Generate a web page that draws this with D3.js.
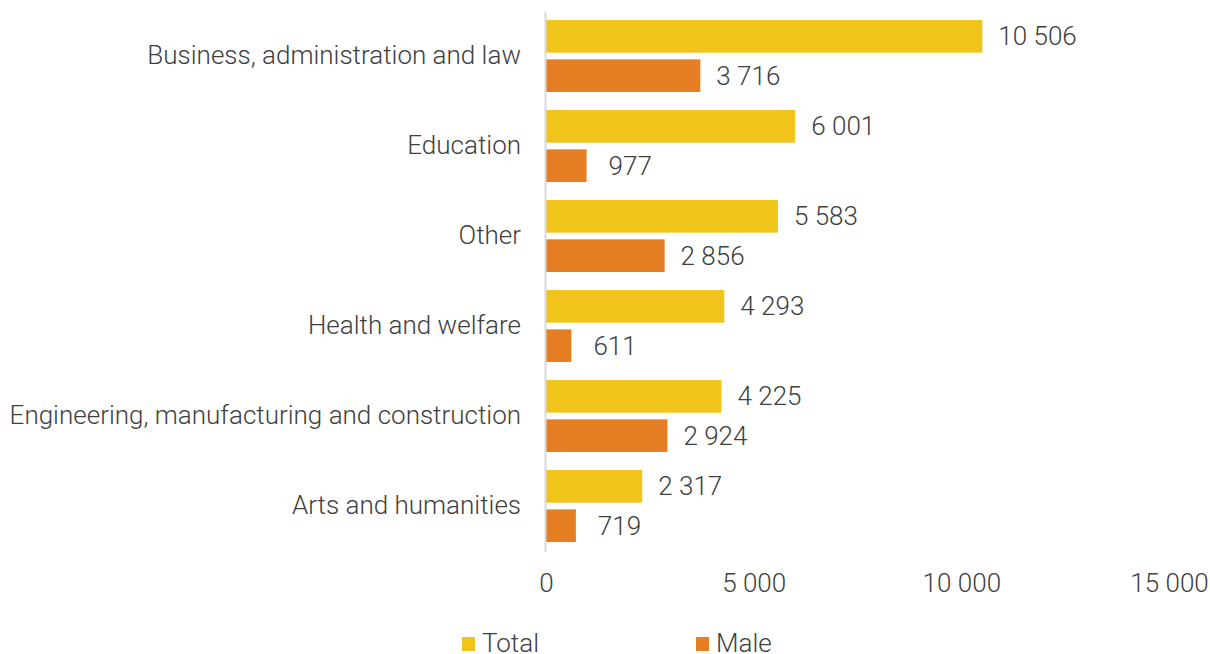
<!DOCTYPE html>
<html>
<head>
<meta charset="utf-8">
<script src="https://cdn.jsdelivr.net/npm/d3@7"></script>
<style>
  html, body { margin: 0; padding: 0; background: #ffffff; }
  svg { display: block; }
  text { font-family: Roboto, "Noto Sans", sans-serif; font-weight: 300; fill: #404040; }
</style>
</head>
<body>
<svg id="chart" width="1210" height="654"></svg>
<script>
// Fields of study, top to bottom
const categories = [
  "Business, administration and law",
  "Education",
  "Other",
  "Health and welfare",
  "Engineering, manufacturing and construction",
  "Arts and humanities"
];
const totalValues = [10506, 6001, 5583, 4293, 4225, 2317];
const maleValues  = [3716, 977, 2856, 611, 2924, 719];
const seriesNames = ["Total", "Male"];
const xTicks = [0, 5000, 10000, 15000];

const colors = { Total: "#F0C41B", Male: "#E67E24" };
const FONT = 26;

const svg = d3.select("#chart");
const plot = { left: 546, right: 1169, top: 11, bottom: 551 };

const locale = d3.formatLocale({ decimal: ".", thousands: "\u00a0", grouping: [3], currency: ["", ""] });
const fmt = locale.format(",d");

const x = d3.scaleLinear().domain([0, 15000]).range([plot.left, plot.right]);
const y = d3.scaleBand().domain(categories).range([plot.top, plot.bottom]).paddingInner(0).paddingOuter(0);
const inner = d3.scaleBand().domain(seriesNames).range([9, y.bandwidth() - 9]).paddingInner(0.17).paddingOuter(0);

const rows = categories.map((c, i) => ({ category: c, Total: totalValues[i], Male: maleValues[i] }));

// Bars and value labels
const groups = svg.append("g").selectAll("g")
  .data(rows).join("g")
  .attr("transform", d => `translate(0,${y(d.category)})`);

seriesNames.forEach(s => {
  groups.append("rect")
    .attr("x", x(0))
    .attr("y", inner(s))
    .attr("width", d => x(d[s]) - x(0))
    .attr("height", inner.bandwidth())
    .attr("fill", colors[s]);
  groups.append("text")
    .attr("x", d => x(d[s]) + (d[s] < 1000 ? 22 : 16))
    .attr("y", inner(s) + inner.bandwidth() / 2)
    .attr("dy", "0.35em")
    .attr("font-size", FONT)
    .text(d => fmt(d[s]));
});

// Category axis (left)
const yAxis = svg.append("g")
  .attr("transform", `translate(${plot.left - 1},0)`)
  .call(d3.axisLeft(y).tickSize(0).tickPadding(24));
yAxis.select(".domain").attr("stroke", "#d9d9d9").attr("stroke-width", 2);
yAxis.selectAll("text")
  .attr("font-size", FONT)
  .style("font-family", "Roboto, 'Noto Sans', sans-serif")
  .attr("fill", "#404040");

// Value axis (bottom, labels only)
const xAxis = svg.append("g")
  .attr("transform", `translate(0,${plot.bottom})`)
  .call(d3.axisBottom(x).tickValues(xTicks).tickFormat(fmt).tickSize(0).tickPadding(23));
xAxis.select(".domain").remove();
xAxis.selectAll("text")
  .attr("font-size", FONT)
  .style("font-family", "Roboto, 'Noto Sans', sans-serif")
  .attr("fill", "#404040");

// Legend
const legend = svg.append("g").attr("transform", "translate(462,0)");
const legendItems = legend.selectAll("g").data(seriesNames).join("g")
  .attr("transform", (d, i) => `translate(${i * 234},637)`);
legendItems.append("rect")
  .attr("width", 13).attr("height", 14)
  .attr("fill", d => colors[d]);
legendItems.append("text")
  .attr("x", 20).attr("y", 6).attr("dy", "0.35em")
  .attr("font-size", FONT)
  .text(d => d);
</script>
</body>
</html>
